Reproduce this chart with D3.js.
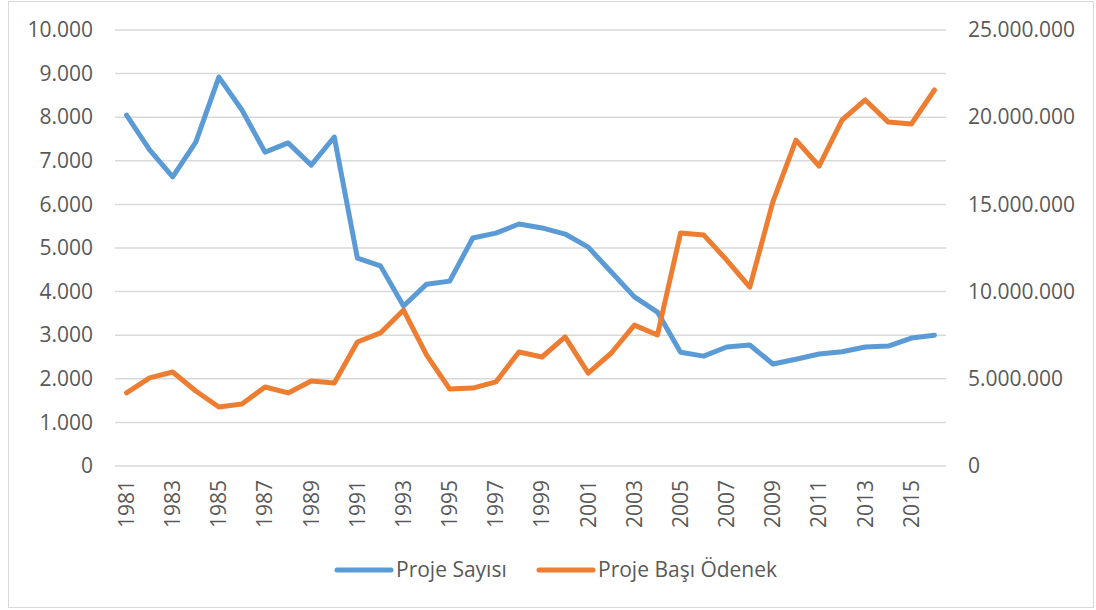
<!DOCTYPE html>
<html>
<head>
<meta charset="utf-8">
<script src="https://cdn.jsdelivr.net/npm/d3@7"></script>
<style>
  body { margin: 0; background: #fff; }
  text { font-family: "Open Sans", sans-serif; fill: #595959; }
</style>
</head>
<body>
<div id="chart"></div>
<script>
const width = 1096;
const height = 610;

const years = d3.range(1981, 2017);

// Proje Sayısı (left axis)
const projeSayisi = [
    8050, 7250, 6630, 7430, 8920, 8165, 7200, 7410, 6900, 7545,
    4770, 4590, 3670, 4170, 4240, 5230, 5340, 5550, 5460, 5320,
    5020, 4450, 3880, 3530, 2610, 2520, 2730, 2775, 2340, 2450,
    2570, 2620, 2730, 2750, 2935, 3000
];

// Proje Başı Ödenek (right axis)
const projeBasiOdenek = [
    4190000, 5050000, 5390000, 4300000, 3380000, 3560000, 4530000, 4190000, 4870000, 4760000,
    7110000, 7630000, 8940000, 6360000, 4410000, 4470000, 4820000, 6540000, 6250000, 7400000,
    5330000, 6480000, 8080000, 7510000, 13360000, 13250000, 11810000, 10260000, 15140000, 18690000,
    17200000, 19840000, 20990000, 19720000, 19610000, 21560000
];

const leftTicks = d3.range(0, 10001, 1000);
const rightTicks = d3.range(0, 25000001, 5000000);

const fmt = v => d3.format(",")(v).replace(/,/g, ".");

const margin = { left: 115, right: 150, top: 30, bottom: 144 };
const fontSize = "21px";

const svg = d3.select("#chart")
    .append("svg")
    .attr("width", width)
    .attr("height", height);

// chart border
svg.append("rect")
    .attr("x", 8.5)
    .attr("y", 1.5)
    .attr("width", 1085)
    .attr("height", 606)
    .attr("fill", "none")
    .attr("stroke", "#d9d9d9")
    .attr("stroke-width", 1);

const x = d3.scaleBand()
    .domain(years)
    .range([margin.left, width - margin.right]);

const yLeft = d3.scaleLinear()
    .domain([0, 10000])
    .range([height - margin.bottom, margin.top]);

const yRight = d3.scaleLinear()
    .domain([0, 25000000])
    .range([height - margin.bottom, margin.top]);

// gridlines
svg.append("g")
    .selectAll("line")
    .data(leftTicks)
    .enter()
    .append("line")
    .attr("x1", margin.left)
    .attr("x2", width - margin.right)
    .attr("y1", d => yLeft(d))
    .attr("y2", d => yLeft(d))
    .attr("stroke", "#d9d9d9")
    .attr("stroke-width", 1.5);

// left axis
const leftAxis = svg.append("g")
    .attr("transform", `translate(${margin.left - 22},0)`)
    .call(d3.axisLeft(yLeft).tickValues(leftTicks).tickFormat(fmt).tickSize(0).tickPadding(0));
leftAxis.select(".domain").remove();
leftAxis.selectAll("text")
    .style("font-size", fontSize)
    .style("font-family", "'Open Sans', sans-serif")
    .attr("fill", "#595959");

// right axis
const rightAxis = svg.append("g")
    .attr("transform", `translate(${width - margin.right + 22},0)`)
    .call(d3.axisRight(yRight).tickValues(rightTicks).tickFormat(fmt).tickSize(0).tickPadding(0));
rightAxis.select(".domain").remove();
rightAxis.selectAll("text")
    .style("font-size", fontSize)
    .style("font-family", "'Open Sans', sans-serif")
    .attr("fill", "#595959");

// bottom axis, every other year, rotated
const xAxis = svg.append("g")
    .attr("transform", `translate(0,${height - margin.bottom})`)
    .call(d3.axisBottom(x).tickValues(years.filter((d, i) => i % 2 === 0)).tickSize(0).tickPadding(0));
xAxis.select(".domain").remove();
xAxis.selectAll("text")
    .style("font-size", fontSize)
    .style("font-family", "'Open Sans', sans-serif")
    .attr("fill", "#595959")
    .attr("transform", "rotate(-90)")
    .attr("text-anchor", "end")
    .attr("x", -14)
    .attr("y", 0)
    .attr("dy", "0.35em");

const cx = d => x(d) + x.bandwidth() / 2;

const lineLeft = d3.line()
    .x((d, i) => cx(years[i]))
    .y(d => yLeft(d));

const lineRight = d3.line()
    .x((d, i) => cx(years[i]))
    .y(d => yRight(d));

svg.append("path")
    .datum(projeSayisi)
    .attr("d", lineLeft)
    .attr("fill", "none")
    .attr("stroke", "#5b9bd5")
    .attr("stroke-width", 5)
    .attr("stroke-linejoin", "round")
    .attr("stroke-linecap", "round");

svg.append("path")
    .datum(projeBasiOdenek)
    .attr("d", lineRight)
    .attr("fill", "none")
    .attr("stroke", "#ed7d31")
    .attr("stroke-width", 5)
    .attr("stroke-linejoin", "round")
    .attr("stroke-linecap", "round");

// legend
const legendItems = [
    { name: "Proje Sayısı", color: "#5b9bd5", x: 337 },
    { name: "Proje Başı Ödenek", color: "#ed7d31", x: 539 }
];

const legend = svg.append("g");
legendItems.forEach(item => {
    legend.append("line")
        .attr("x1", item.x)
        .attr("x2", item.x + 54)
        .attr("y1", 570)
        .attr("y2", 570)
        .attr("stroke", item.color)
        .attr("stroke-width", 5)
        .attr("stroke-linecap", "round");
    legend.append("text")
        .attr("x", item.x + 59)
        .attr("y", 570)
        .attr("dy", "0.35em")
        .style("font-size", fontSize)
        .text(item.name);
});
</script>
</body>
</html>
